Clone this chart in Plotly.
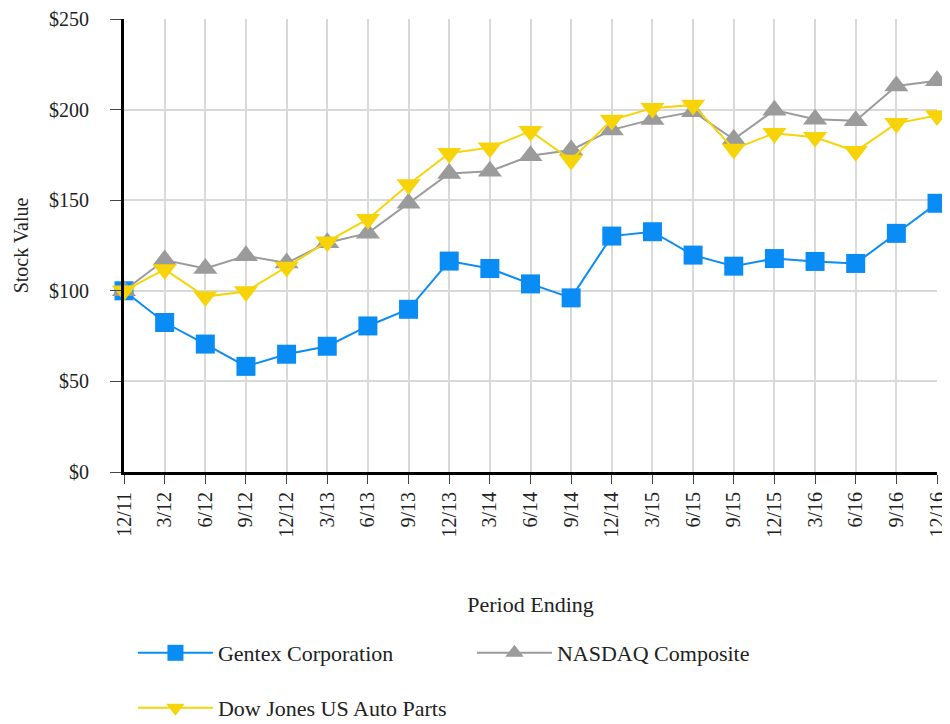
import plotly.graph_objects as go

periods = ["12/11", "3/12", "6/12", "9/12", "12/12", "3/13", "6/13", "9/13", "12/13", "3/14",
           "6/14", "9/14", "12/14", "3/15", "6/15", "9/15", "12/15", "3/16", "6/16", "9/16", "12/16"]

gentex = [100, 82.5, 70.6, 58.3, 65.0, 69.4, 80.6, 89.8, 116.4, 112.3,
          103.8, 96.1, 130.2, 132.6, 119.7, 113.6, 117.8, 116.2, 115.1, 131.7, 148.3]
nasdaq = [100, 117.0, 112.3, 119.3, 115.3, 126.5, 131.8, 148.3, 164.8, 166.0,
          174.5, 177.7, 188.8, 194.6, 198.8, 183.6, 199.7, 194.7, 193.9, 213.0, 215.9]
dowjones = [100, 111.8, 96.8, 99.6, 113.2, 127.1, 139.5, 158.7, 175.9, 179.0,
            188.1, 172.2, 194.3, 200.8, 202.6, 178.2, 187.0, 184.7, 177.0, 192.4, 196.7]

y_ticks = [0, 50, 100, 150, 200, 250]
y_ticktext = ["$0", "$50", "$100", "$150", "$200", "$250"]

series = [
    ("Gentex Corporation", gentex, "#0a8cf5", "square", 19, "legend"),
    ("NASDAQ Composite", nasdaq, "#9b9b9b", "triangle-up", 21, "legend"),
    ("Dow Jones US Auto Parts", dowjones, "#f7d40a", "triangle-down", 21, "legend2"),
]

fig = go.Figure()
for name, vals, color, sym, size, leg in series:
    fig.add_trace(go.Scatter(
        x=list(range(len(periods))), y=vals, name=name, mode="lines+markers",
        line=dict(color=color, width=2),
        marker=dict(symbol=sym, size=size, color=color, line=dict(width=0)),
        cliponaxis=False, legend=leg,
    ))

font_family = "Liberation Serif, Times New Roman, serif"
legend_common = dict(orientation="h", xanchor="left", yanchor="middle",
                     itemwidth=75, entrywidth=249, entrywidthmode="pixels",
                     bgcolor="rgba(0,0,0,0)",
                     font=dict(family=font_family, size=22, color="#222"))
fig.update_layout(
    width=942, height=716,
    margin=dict(l=116, r=13, t=11, b=252, autoexpand=False),
    paper_bgcolor="white", plot_bgcolor="white",
    font=dict(family=font_family, size=20, color="#222"),
    showlegend=True,
    legend=dict(x=0.011, y=-0.3996, **legend_common),
    legend2=dict(x=0.011, y=-0.521, **legend_common),
    xaxis=dict(
        range=[0, 20], tickmode="array", tickvals=list(range(len(periods))), ticktext=periods,
        tickangle=-90, showgrid=True, gridcolor="#d9d9d9", gridwidth=1.5,
        showline=True, linecolor="black", linewidth=3,
        ticks="outside", ticklen=9, tickcolor="#444",
        ticklabeloverflow="allow",
        tickfont=dict(size=20),
        title=dict(text="Period Ending", font=dict(size=22), standoff=61),
        zeroline=False, automargin=False,
    ),
    yaxis=dict(
        range=[0, 250], tickmode="array", tickvals=y_ticks, ticktext=y_ticktext,
        showgrid=True, gridcolor="#d9d9d9", gridwidth=1.5,
        showline=True, linecolor="black", linewidth=3,
        ticks="outside", ticklen=11, tickcolor="#444", ticklabelstandoff=17,
        ticklabeloverflow="allow",
        tickfont=dict(size=20),
        title=dict(text="Stock Value", font=dict(size=20), standoff=16),
        zeroline=False, automargin=False,
    ),
)

fig.write_html("out.html")
